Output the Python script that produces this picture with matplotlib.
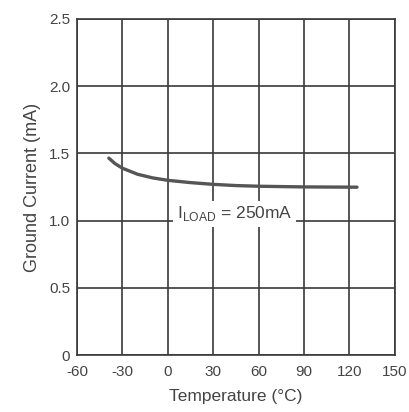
import matplotlib
matplotlib.use("Agg")
import matplotlib.pyplot as plt

plt.rcParams.update({"font.family": ["Liberation Sans", "DejaVu Sans"],
                     "axes.unicode_minus": False,
                     "mathtext.fontset": "custom",
                     "mathtext.rm": "Liberation Sans"})

temp_c = [-39, -35, -30, -20, -10, 0, 15, 30, 45, 60, 90, 125]
ground_ma = [1.465, 1.425, 1.39, 1.345, 1.318, 1.300, 1.283, 1.270, 1.261, 1.256, 1.251, 1.249]
x_ticks = [-60, -30, 0, 30, 60, 90, 120, 150]
y_ticks = [0, 0.5, 1.0, 1.5, 2.0, 2.5]
y_labels = ["0", "0.5", "1.0", "1.5", "2.0", "2.5"]

TXT = "#444444"; GRID = "#3a3a3a"

fig = plt.figure(figsize=(4.1, 4.12), dpi=100)
ax = fig.add_axes([0.188, 0.138, 0.775, 0.816])
ax.set_xlim(-60, 150); ax.set_ylim(0, 2.5)
ax.set_xticks(x_ticks); ax.set_yticks(y_ticks)
ax.set_yticklabels(y_labels)
ax.grid(True, color=GRID, lw=1.2)
ax.set_axisbelow(True)
for s in ax.spines.values():
    s.set_color(GRID); s.set_linewidth(1.2)
ax.tick_params(length=0, labelsize=11, labelcolor=TXT)
ax.tick_params(axis="x", pad=7)
ax.tick_params(axis="y", pad=5)

ax.plot(temp_c, ground_ma, color="#555555", lw=2.4, solid_capstyle="round")

# label with a white box that breaks the grid lines behind it
ax.text(44, 1.05, r"I$_{\mathregular{LOAD}}$ = 250mA", color=TXT, fontsize=12.5,
        ha="center", va="center",
        bbox=dict(facecolor="white", edgecolor="none", pad=2.5))

ax.set_xlabel("Temperature (°C)", fontsize=12.5, color=TXT, labelpad=7)
ax.set_ylabel("Ground Current (mA)", fontsize=13, color=TXT, labelpad=6)

fig.savefig("out.png", dpi=100)
